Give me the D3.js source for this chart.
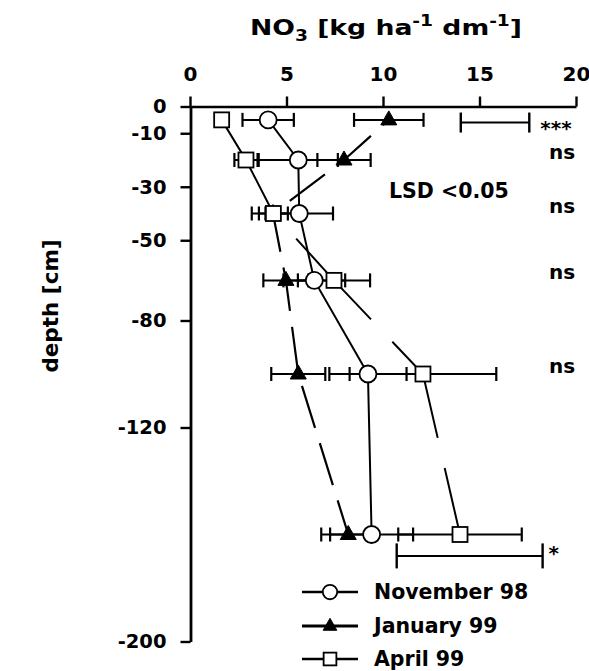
<!DOCTYPE html>
<html><head><meta charset="utf-8">
<script src="https://cdn.jsdelivr.net/npm/d3@7"></script>
<style>
body{margin:0;background:#fff;}
svg{display:block;}
text{font-family:"DejaVu Sans",sans-serif;font-weight:bold;fill:#000;}
</style></head><body>
<svg id="c" width="589" height="671"></svg>
<script>
// ---- data ----
const depths   = [-5, -20, -40, -65, -100, -160];
const novMean  = [4.05, 5.61, 5.66, 6.44, 9.22, 9.41];
const novErr   = [1.33, 2.05, 1.75, 1.6, 2.0, 2.15];
const janMean  = [10.3, 7.98, 4.3, 4.97, 5.61, 8.2];
const janErr   = [1.8, 1.38, 1.1, 1.17, 1.4, 1.4];
const aprMean  = [1.64, 2.9, 4.32, 7.46, 12.07, 13.99];
const aprErr   = [0, 0.6, 0.75, 1.87, 3.8, 3.2];
const lsdDepth = [-6, -168];
const lsdStart = [14.03, 10.71];
const lsdValue = [3.55, 7.56];
const lsdLabel = ["***", "*"];
const nsDepth  = [-20, -40, -65, -100];
const nsLabel  = ["ns", "ns", "ns", "ns"];
const xTicks   = [0, 5, 10, 15, 20];
const yTicks   = [0, -10, -30, -50, -80, -120, -200];
const seriesNames = ["November 98", "January 99", "April 99"];

const svg = d3.select("#c");
const x = d3.scaleLinear().domain([0, 20]).range([190, 576]);
const y = d3.scaleLinear().domain([0, -200]).range([106.5, 641.5]);

const series = [
  {name: seriesNames[0], mean: novMean, err: novErr, shape: "circle",   dash: null,     off: 0,  w: 2},
  {name: seriesNames[1], mean: janMean, err: janErr, shape: "triangle", dash: "44,16", off: 36, w: 2.2},
  {name: seriesNames[2], mean: aprMean, err: aprErr, shape: "square",   dash: "110,31", off: 0, w: 2}
];

function marker(g, shape, cx, cy, s) {
  if (shape === "circle") {
    g.append("circle").attr("cx", cx).attr("cy", cy).attr("r", 8.5 * s)
      .attr("fill", "#fff").attr("stroke", "#000").attr("stroke-width", 1.8);
  } else if (shape === "square") {
    const h = 7.5 * s;
    g.append("rect").attr("x", cx - h).attr("y", cy - h).attr("width", 2 * h).attr("height", 2 * h)
      .attr("fill", "#fff").attr("stroke", "#000").attr("stroke-width", 1.8);
  } else {
    const hw = 8 * s, top = 9 * s, bot = 5 * s;
    g.append("path").attr("d", `M${cx},${cy - top}L${cx + hw},${cy + bot}L${cx - hw},${cy + bot}Z`)
      .attr("fill", "#000").attr("stroke", "#000").attr("stroke-width", 1);
  }
}

// ---- axes ----
const fmt = d => String(d);
const xAxis = d3.axisTop(x).tickValues(xTicks).tickFormat(fmt).tickSize(10).tickSizeOuter(0).tickPadding(16);
const gx = svg.append("g").attr("transform", `translate(0,${y(0)})`).call(xAxis);
gx.select(".domain").attr("stroke-width", 2.6);
gx.selectAll(".tick line").attr("stroke-width", 2.4);
gx.selectAll(".tick text").attr("font-size", 20).attr("font-family", '"DejaVu Sans",sans-serif').attr("font-weight", "bold");

const yAxis = d3.axisLeft(y).tickValues(yTicks).tickFormat(fmt).tickSize(10).tickSizeOuter(0).tickPadding(14);
const gy = svg.append("g").attr("transform", `translate(${x(0) + 0.5},0)`).call(yAxis);
gy.select(".domain").attr("stroke-width", 2.8);
gy.selectAll(".tick line").attr("stroke-width", 2.4);
gy.selectAll(".tick text").attr("font-size", 19.5).attr("font-family", '"DejaVu Sans",sans-serif').attr("font-weight", "bold");

// ---- titles ----
const title = svg.append("text").attr("x", 250).attr("y", 35).attr("font-size", 21.5)
  .attr("textLength", 272).attr("lengthAdjust", "spacingAndGlyphs");
title.append("tspan").text("NO");
title.append("tspan").attr("font-size", 15).attr("dy", 6).text("3");
title.append("tspan").attr("dy", -6).text(" [kg ha");
title.append("tspan").attr("font-size", 15).attr("dy", -9).text("-1");
title.append("tspan").attr("dy", 9).text(" dm");
title.append("tspan").attr("font-size", 15).attr("dy", -9).text("-1");
title.append("tspan").attr("dy", 9).text("]");

svg.append("text").attr("transform", "translate(58,306) rotate(-90)")
  .attr("text-anchor", "middle").attr("font-size", 21.5).text("depth [cm]");

// ---- lines ----
const line = d3.line().x(d => x(d.v)).y(d => y(d.d));
series.forEach(s => {
  const pts = depths.map((d, i) => ({d: d, v: s.mean[i]}));
  const p = svg.append("path").datum(pts).attr("d", line)
    .attr("fill", "none").attr("stroke", "#000").attr("stroke-width", s.w);
  if (s.dash) p.attr("stroke-dasharray", s.dash).attr("stroke-dashoffset", s.off);
});

// ---- error bars ----
const eb = svg.append("g").attr("stroke", "#000");
series.forEach(s => {
  depths.forEach((d, i) => {
    const e = s.err[i];
    if (!e) return;
    const yy = y(d), x1 = x(s.mean[i] - e), x2 = x(s.mean[i] + e);
    eb.append("line").attr("x1", x1).attr("x2", x2).attr("y1", yy).attr("y2", yy).attr("stroke-width", 2);
    [x1, x2].forEach(xx => eb.append("line").attr("x1", xx).attr("x2", xx)
      .attr("y1", yy - 7).attr("y2", yy + 7).attr("stroke-width", 2.2));
  });
});

// ---- markers (triangles, circles, squares) ----
const mk = svg.append("g");
[1, 0, 2].forEach(k => {
  const s = series[k];
  depths.forEach((d, i) => marker(mk, s.shape, x(s.mean[i]), y(d), 1));
});

// ---- LSD bars ----
const capH = [10, 12.5];
const lsdG = svg.append("g").attr("stroke", "#000");
lsdDepth.forEach((d, i) => {
  const yy = y(d), x1 = x(lsdStart[i]), x2 = x(lsdStart[i] + lsdValue[i]);
  lsdG.append("line").attr("x1", x1).attr("x2", x2).attr("y1", yy).attr("y2", yy).attr("stroke-width", 2);
  [x1, x2].forEach(xx => lsdG.append("line").attr("x1", xx).attr("x2", xx)
    .attr("y1", yy - capH[i]).attr("y2", yy + capH[i]).attr("stroke-width", 2.4));
});
svg.append("text").attr("x", x(lsdStart[0] + lsdValue[0]) + 11).attr("y", y(lsdDepth[0]) + 12)
  .attr("font-size", 20).text(lsdLabel[0]);
svg.append("text").attr("x", x(lsdStart[1] + lsdValue[1]) + 6).attr("y", y(lsdDepth[1]) + 4)
  .attr("font-size", 20).text(lsdLabel[1]);

svg.append("text").attr("x", 389).attr("y", 198).attr("font-size", 20.5).text("LSD <0.05");

nsDepth.forEach((d, i) => {
  svg.append("text").attr("x", 549).attr("y", y(d) - 1).attr("font-size", 20).text(nsLabel[i]);
});

// ---- legend ----
const legY = [592, 626, 659];
const lg = svg.append("g");
series.forEach((s, i) => {
  const yy = legY[i];
  lg.append("line").attr("x1", 302).attr("x2", 358).attr("y1", yy).attr("y2", yy)
    .attr("stroke", "#000").attr("stroke-width", i === 1 ? 3 : 2.4);
  marker(lg, s.shape, 330, yy, 0.85);
  lg.append("text").attr("x", 374).attr("y", yy + 7).attr("font-size", 20.5).text(s.name);
});
</script>
</body></html>
